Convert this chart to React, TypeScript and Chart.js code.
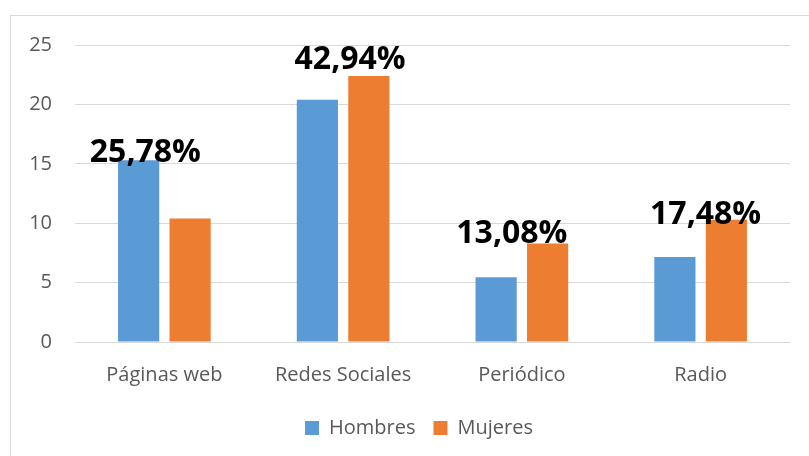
import React, { useEffect, useRef } from "react";
import { Chart, registerables } from "chart.js";

Chart.register(...registerables);

const categories = ["Páginas web", "Redes Sociales", "Periódico", "Radio"];
const hombres = [15.3, 20.4, 5.45, 7.15];
const mujeres = [10.4, 22.4, 8.3, 10.3];
const percentLabels = ["25,78%", "42,94%", "13,08%", "17,48%"];
const yTicks = [0, 5, 10, 15, 20, 25];

const FONT = "'Open Sans', 'Noto Sans', sans-serif";

const percentPlugin = {
  id: "percentLabels",
  afterDatasetsDraw(chart: any, _args: any, opts: any) {
    const { ctx, scales } = chart;
    const x = scales.x;
    const y = scales.y;
    ctx.save();
    ctx.font = `bold 32px ${FONT}`;
    ctx.fillStyle = "#000000";
    ctx.textAlign = "center";
    ctx.textBaseline = "alphabetic";
    percentLabels.forEach((txt, i) => {
      const top = Math.max(hombres[i], mujeres[i]);
      const px = x.getPixelForValue(i) + (opts.dx?.[i] ?? 0);
      const py = y.getPixelForValue(top) + (opts.dy?.[i] ?? 0);
      ctx.fillText(txt, px, py);
    });
    ctx.restore();
  },
};

export default function App() {
  const ref = useRef<HTMLCanvasElement | null>(null);

  useEffect(() => {
    if (!ref.current) return;
    const chart = new Chart(ref.current, {
      type: "bar",
      data: {
        labels: categories,
        datasets: [
          {
            label: "Hombres",
            data: hombres,
            backgroundColor: "#5B9BD5",
            barPercentage: 0.8,
            categoryPercentage: 0.576,
          },
          {
            label: "Mujeres",
            data: mujeres,
            backgroundColor: "#ED7D31",
            barPercentage: 0.8,
            categoryPercentage: 0.576,
          },
        ],
      },
      options: {
        responsive: false,
        maintainAspectRatio: false,
        animation: false,
        layout: { padding: { left: 29, right: 0, top: 45, bottom: 8 } },
        plugins: {
          tooltip: { enabled: false },
          legend: {
            position: "bottom",
            labels: {
              boxWidth: 14,
              boxHeight: 14,
              padding: 18,
              color: "#595959",
              font: { family: FONT, size: 20 },
            },
          },
          percentLabels: {
            dx: [-19, 7, -10, 5],
            dy: [2, -7, 0, 4],
          },
        } as any,
        scales: {
          x: {
            grid: { display: false },
            border: { display: false },
            ticks: {
              color: "#595959",
              font: { family: FONT, size: 20 },
              padding: 13,
            },
            afterFit: (s: any) => {
              s.paddingLeft = 0;
              s.paddingRight = 0;
            },
          },
          y: {
            min: 0,
            max: 25,
            afterBuildTicks: (s: any) => {
              s.ticks = yTicks.map((v) => ({ value: v }));
            },
            grid: { color: "#D9D9D9", lineWidth: 1, drawTicks: false },
            border: { display: false },
            ticks: {
              color: "#595959",
              font: { family: FONT, size: 20 },
              padding: 23,
            },
            afterFit: (s: any) => {
              s.width = 46;
            },
          },
          yR: {
            position: "right",
            display: true,
            grid: { display: false },
            border: { display: false },
            ticks: { display: false },
            afterFit: (s: any) => {
              s.width = 19;
            },
          },
        },
      },
      plugins: [percentPlugin],
    });
    return () => chart.destroy();
  }, []);

  return (
    <div
      style={{
        position: "fixed",
        left: 0,
        top: 0,
        width: 809,
        height: 456,
        overflow: "hidden",
        background: "#ffffff",
      }}
    >
      <div
        style={{
          position: "absolute",
          left: 10,
          top: 15,
          width: 900,
          height: 600,
          border: "1px solid #D9D9D9",
        }}
      />
      <canvas
        ref={ref}
        width={809}
        height={456}
        style={{ position: "absolute", left: 0, top: 0, width: 809, height: 456 }}
      />
    </div>
  );
}
